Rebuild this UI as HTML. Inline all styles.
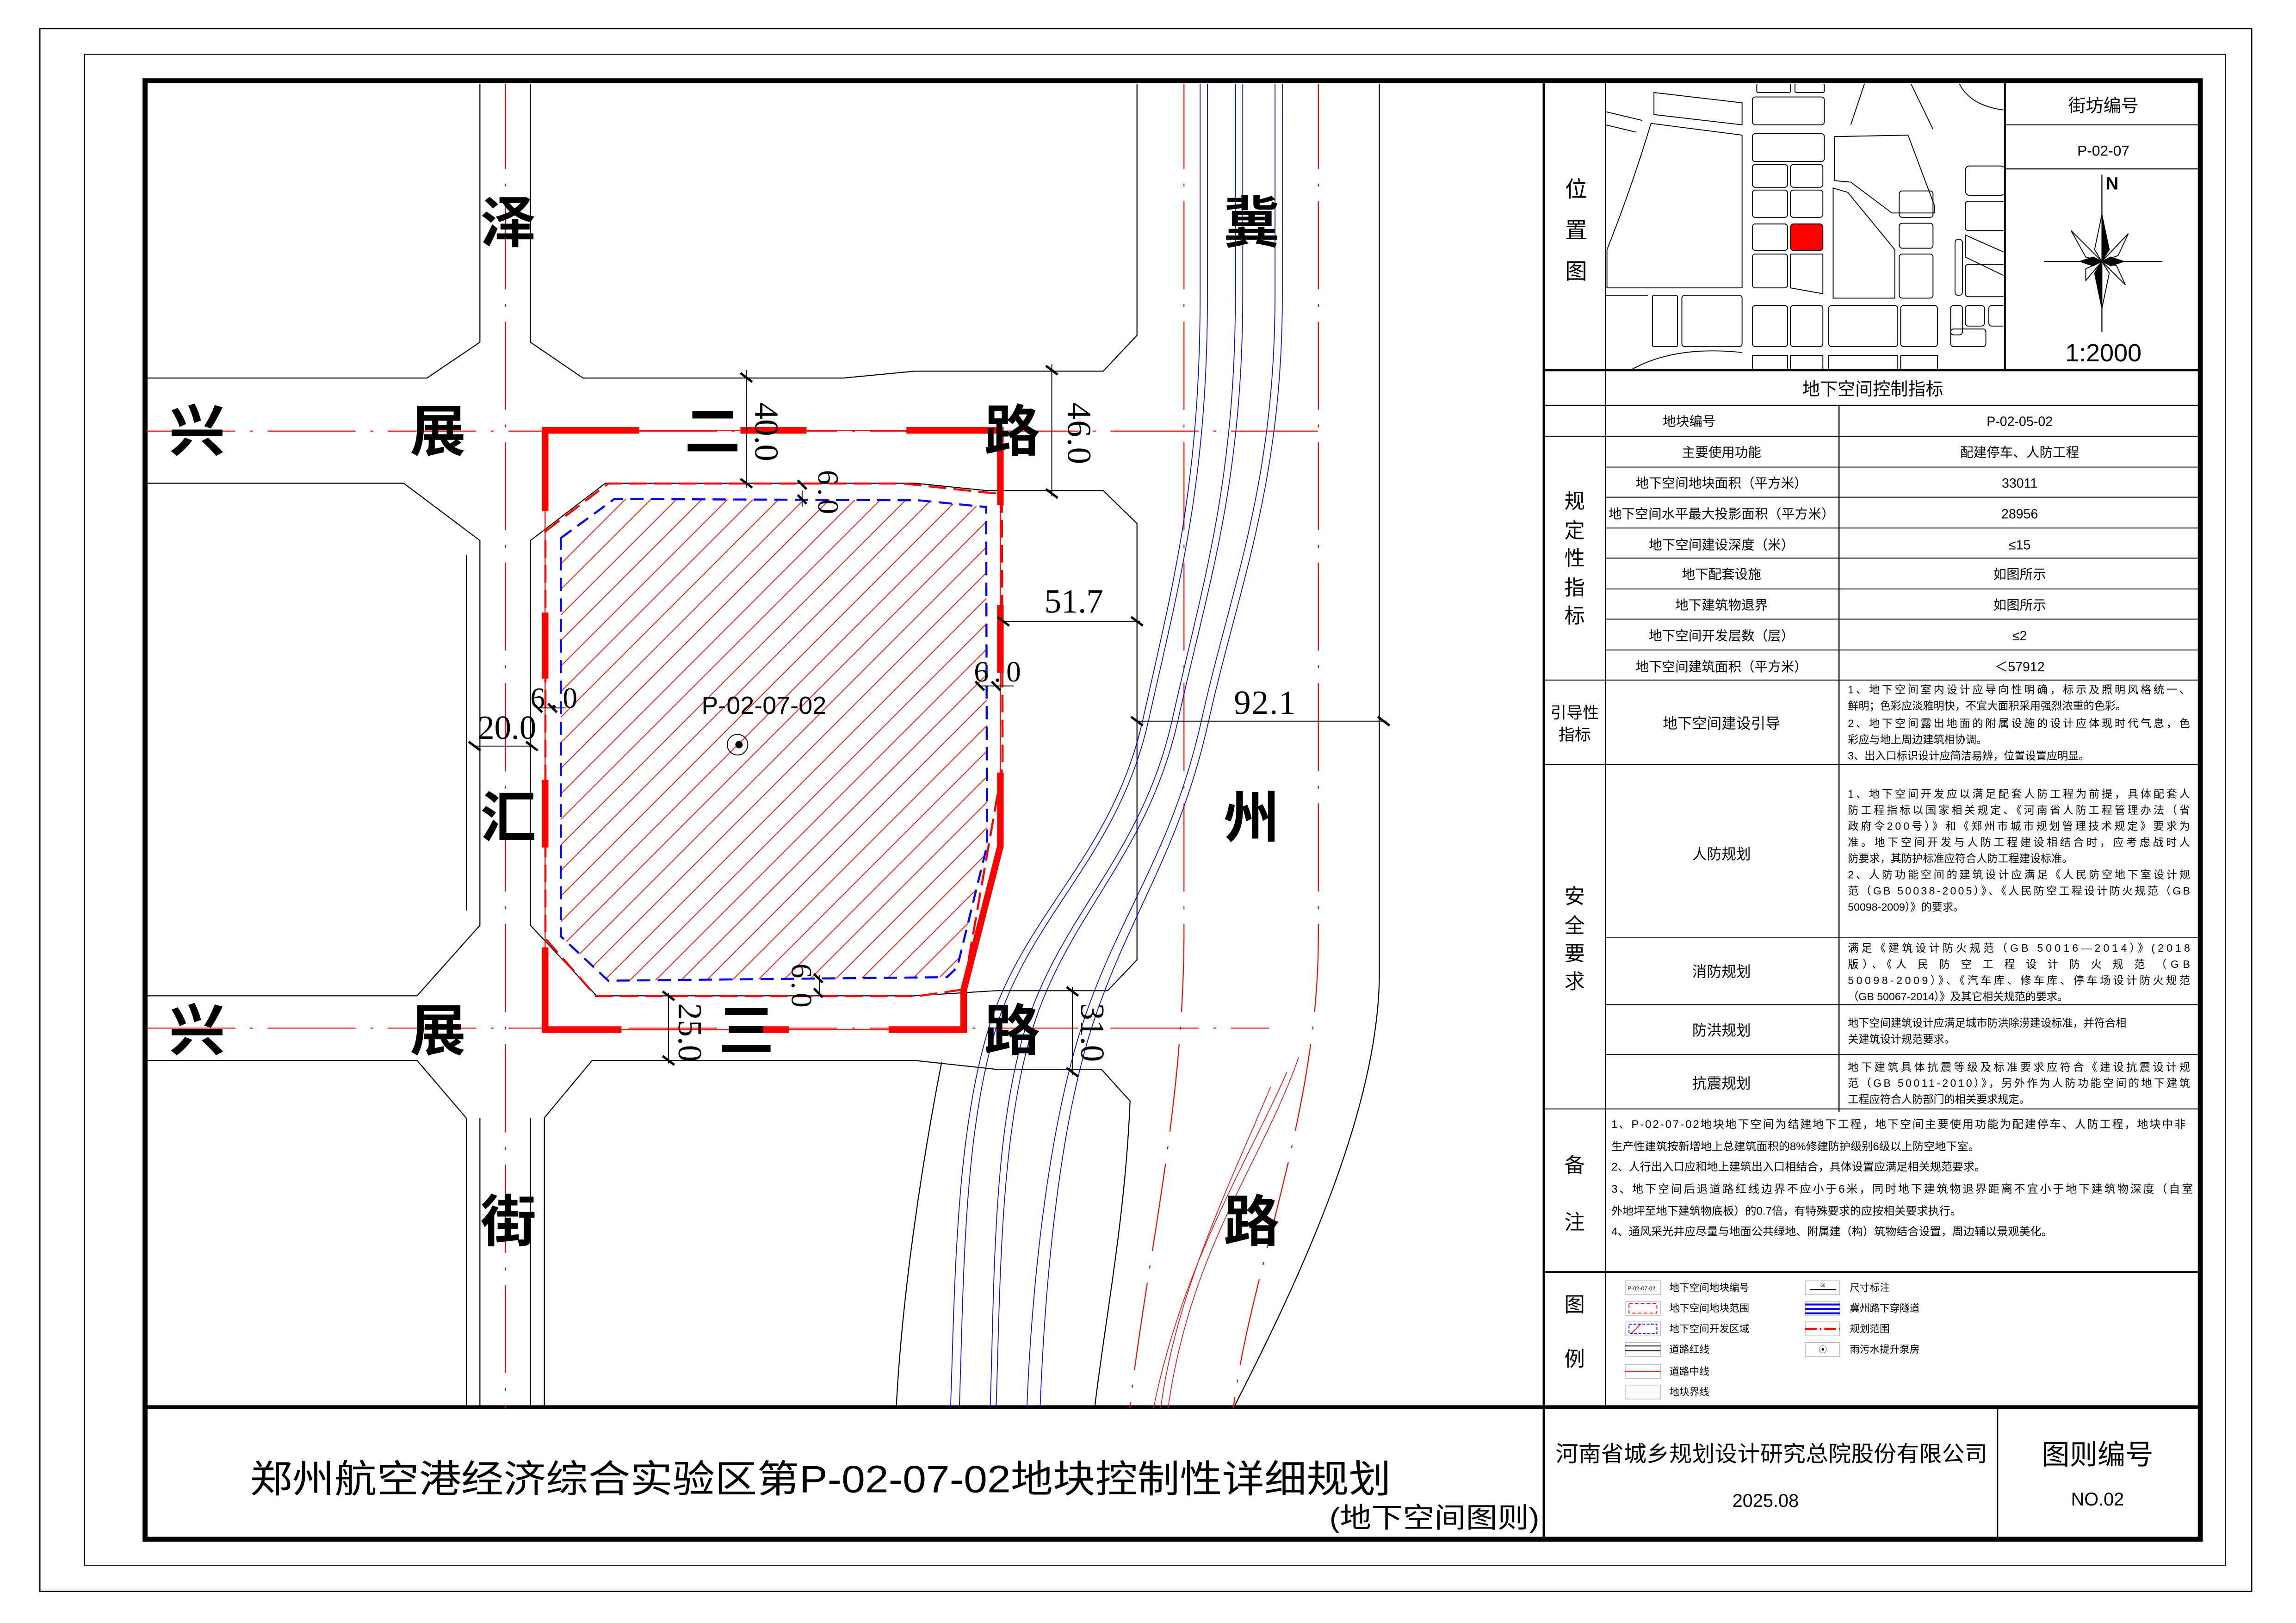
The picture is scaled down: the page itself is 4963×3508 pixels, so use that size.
<!DOCTYPE html>
<html><head><meta charset="utf-8"><style>
html,body{margin:0;padding:0;background:#fff}
svg{display:block}
text{font-family:"Liberation Sans","Noto Sans CJK SC",sans-serif}
.s{font-family:"Liberation Serif","Noto Serif CJK SC",serif}
</style></head><body>
<svg width="4963" height="3508" viewBox="0 0 1563 1105" xmlns="http://www.w3.org/2000/svg">
<defs>
<pattern id="h" patternUnits="userSpaceOnUse" width="17.4" height="17.4">
<path d="M-2 19.4L19.4 -2M-4 4L4 -4M13.4 21.4L21.4 13.4" stroke="#f00" stroke-width="0.55"/>
</pattern>
<clipPath id="cm"><rect x="100" y="57" width="950" height="902"/></clipPath>
<clipPath id="cmap"><rect x="1093" y="57" width="271" height="194"/></clipPath>
</defs>
<rect width="1563" height="1105" fill="#fff"/>
<!-- frames -->
<rect x="27" y="19.5" width="1506" height="1064" fill="none" stroke="#000" stroke-width="0.8"/>
<rect x="57.5" y="37" width="1457.5" height="1029" fill="none" stroke="#000" stroke-width="0.6"/>
<rect x="98.6" y="55" width="1399.4" height="993" fill="none" stroke="#000" stroke-width="3.4"/>
<line x1="1051" y1="55" x2="1051" y2="1048" stroke="#000" stroke-width="1.6"/>
<line x1="99" y1="958" x2="1498" y2="958" stroke="#000" stroke-width="2.5"/>

<!-- MAIN DRAWING -->
<g clip-path="url(#cm)">
<g fill="none" stroke="#000" stroke-width="0.7">
<!-- top road upper edges -->
<path d="M100 257.4L290.5 257.4L326.6 233L326.6 55"/>
<path d="M361 55L361 233L396.8 257.4L574 257.4L622.7 252.7L751 252.7L774 228.3L774 55"/>
<!-- top road lower edge / left block -->
<path d="M100 329L274.7 329L326.6 368L326.6 630L283.8 678L100 678"/>
<path d="M317.4 378L317.4 620"/>
<!-- site block -->
<path d="M361 368L412 329L623 329L671.6 334L751 334L774 356.4L774 653.5L754 674.5L678 674.5L622 678L406 678L361 630Z"/>
<!-- bottom road lower edges -->
<path d="M100 722L283.8 722L317.4 761.3L317.4 960"/>
<path d="M326.6 761L326.6 960"/>
<path d="M361 761L361 960"/>
<path d="M370.5 960L370.5 761L403 722L622.7 722L677.7 728L749.7 728L769.3 749.6C766 830 752 900 745 960"/>
<path d="M641 723C628 790 614 880 610 960"/>
<!-- jizhou right edge -->
<path d="M939 55L939 665C938 760 880 880 839 960"/>
</g>
<!-- centerlines -->
<g fill="none" stroke="#f00" stroke-width="0.7">
<path d="M100 293.5H897" stroke-dasharray="60 10 2 10"/>
<path d="M100 700H864" stroke-dasharray="60 10 2 10"/>
<path d="M344 55V960" stroke-dasharray="60 10 2 10" stroke="#e00"/>
<path d="M806 55V640C805 760 780 860 769 960" stroke-dasharray="60 10 2 10"/>
<path d="M897.5 55V640C897 760 850 870 839.5 960" stroke-dasharray="60 10 2 10"/>
<path d="M884 720C860 790 810 850 795 960" stroke-width="0.5"/>
<path d="M876 730C850 790 805 860 785 960" stroke-width="0.5"/>
<path d="M865 740C840 800 800 880 790 960" stroke-width="0.5"/>
</g>
<!-- blue tunnel lines -->
<g fill="none" stroke="#00f" stroke-width="0.55">
<path d="M817 55L817 200C817 330 798 400 778 490S700 620 675 694S650 880 647 960"/>
<path d="M822 55L822 200C822 330 802 400 782 490S705 620 680 694S656 880 653 960"/>
<path d="M841 55L841 200C841 330 818 400 798 490S725 620 700 694S677 880 674 960"/>
<path d="M846 55L846 200C846 330 822 400 802 490S730 620 705 694S681 880 678 960"/>
<path d="M868 55L868 200C868 330 838 400 818 490S763 620 738 694S702 880 699 960"/>
<path d="M873 55L873 200C873 330 843 400 823 490S770 620 745 694S711 880 708 960"/>
</g>
<!-- hatch development area -->
<polygon points="381.7,366.3 418.2,339.7 624.9,340.6 671.3,345.2 671.9,575.7 651.6,658.6 644.6,665.3 414,667.7 381.7,637.5" fill="url(#h)" stroke="#00f" stroke-width="1.4" stroke-dasharray="9 5"/>
<!-- parcel boundary -->
<polygon points="371.2,361.7 414,329.2 615,329.2 669.9,335.2 682,336.1 682.5,521.5 655.8,673.7 624.9,678.2 405.6,678.2 371.2,639" fill="none" stroke="#f00" stroke-width="1.4" stroke-dasharray="12 5"/>
<!-- planning boundary -->
<g fill="none" stroke="#f00">
<path d="M371 293H681V576L656 674V701H371Z" stroke-width="0.7"/>
<g stroke-width="4.5">
<path d="M371 348V293H435"/>
<path d="M504 293H549"/>
<path d="M617 293H681V344"/>
<path d="M681 412V458"/>
<path d="M681 526V576L656 674V701H605"/>
<path d="M537 701H504"/>
<path d="M423 701H371V645"/>
<path d="M371 417V462"/>
<path d="M371 531V577"/>
</g></g>
<!-- dimension lines -->
<g stroke="#000" stroke-width="0.6" fill="none">
<path d="M508 252V332M716 248V338M683 423H776M774 491H944M323 508H362M455 676V724M730 672V732M365 482H385M668 467H690M546 334V345M558 664V676"/>
</g>
<g stroke="#000" stroke-width="1.6">
<path d="M504 254l8 6M504 326l8 6M712 249l8 6M712 333l8 6M679 420l8 6M770 420l8 6M770 488l8 6M938 488l8 6M319 505l8 6M358 505l8 6M451 675l8 6M451 719l8 6M726 672l8 6M726 727l8 6M363 479l6 6M373 479l6 6M664 464l6 6M675 464l6 6M543 327l6 6M543 337l6 6M554 663l6 6M554 673l6 6"/>
</g>
<g class="s" font-size="23" fill="#000">
<text class="s" x="711" y="417" textLength="40">51.7</text>
<text class="s" x="840" y="486" textLength="42">92.1</text>
<text class="s" x="325" y="503" textLength="40">20.0</text>
<text class="s" x="361" y="482" font-size="20" textLength="32">6.0</text>
<text class="s" x="663" y="464" font-size="20" textLength="32">6.0</text>
<text class="s" transform="translate(514 274) rotate(90)" textLength="40">40.0</text>
<text class="s" transform="translate(727 274) rotate(90)" textLength="42">46.0</text>
<text class="s" transform="translate(557 320) rotate(90)" font-size="20" textLength="30">6.0</text>
<text class="s" transform="translate(539 656) rotate(90)" font-size="20" textLength="30">6.0</text>
<text class="s" transform="translate(462 683) rotate(90)" textLength="40">25.0</text>
<text class="s" transform="translate(736 683) rotate(90)" textLength="40">31.0</text>
</g>
<!-- road names -->
<g font-size="38" font-weight="bold" text-anchor="middle" fill="#000">
<text x="346" y="165">泽</text>
<text x="852" y="165">冀</text>
<text x="134" y="307">兴</text>
<text x="298" y="307">展</text>
<text x="485" y="307">二</text>
<text x="689" y="307">路</text>
<text x="346" y="570">汇</text>
<text x="852" y="570">州</text>
<text x="134" y="715">兴</text>
<text x="298" y="715">展</text>
<text x="508" y="715">三</text>
<text x="689" y="715">路</text>
<text x="346" y="845">街</text>
<text x="852" y="845">路</text>
</g>
<text x="520" y="486" font-size="17" text-anchor="middle" fill="#000">P-02-07-02</text>
<circle cx="502" cy="507" r="7" fill="none" stroke="#000" stroke-width="0.6"/>
<circle cx="503" cy="507" r="2.5" fill="#000"/>
</g>

<!-- RIGHT PANEL -->
<g stroke="#000" fill="none">
<line x1="1093" y1="55" x2="1093" y2="958" stroke-width="0.8"/>
<line x1="1365" y1="55" x2="1365" y2="252" stroke-width="1.2"/>
<line x1="1365" y1="85" x2="1498" y2="85" stroke-width="0.7"/>
<line x1="1365" y1="115" x2="1498" y2="115" stroke-width="0.7"/>
<line x1="1051" y1="252" x2="1498" y2="252" stroke-width="1.5"/>
<line x1="1051" y1="276" x2="1498" y2="276" stroke-width="0.8"/>
<line x1="1252" y1="276" x2="1252" y2="757" stroke-width="0.8"/>
<g stroke-width="0.6">
<line x1="1051" y1="297" x2="1498" y2="297"/>
<line x1="1093" y1="318" x2="1498" y2="318"/>
<line x1="1093" y1="338.5" x2="1498" y2="338.5"/>
<line x1="1093" y1="359.5" x2="1498" y2="359.5"/>
<line x1="1093" y1="380" x2="1498" y2="380"/>
<line x1="1093" y1="401" x2="1498" y2="401"/>
<line x1="1093" y1="421.5" x2="1498" y2="421.5"/>
<line x1="1093" y1="442.5" x2="1498" y2="442.5"/>
<line x1="1051" y1="463" x2="1498" y2="463"/>
<line x1="1051" y1="520.5" x2="1498" y2="520.5"/>
<line x1="1093" y1="638.5" x2="1498" y2="638.5"/>
<line x1="1093" y1="684" x2="1498" y2="684"/>
<line x1="1093" y1="718" x2="1498" y2="718"/>
<line x1="1051" y1="755" x2="1498" y2="755"/>
</g>
<line x1="1051" y1="866" x2="1498" y2="866" stroke-width="1.2"/>
<line x1="1360" y1="958" x2="1360" y2="1048" stroke-width="0.8"/>
</g>

<!-- location map -->
<g clip-path="url(#cmap)" fill="none" stroke="#000" stroke-width="0.6">
<rect x="1193" y="66" width="49" height="19" rx="2"/>
<rect x="1193" y="91" width="49" height="19" rx="2"/>
<rect x="1196" y="57" width="23" height="6" rx="1"/>
<rect x="1222" y="57" width="20" height="6" rx="1"/>
<rect x="1193" y="112" width="24" height="15.5" rx="2"/>
<rect x="1193" y="129.4" width="24" height="18.6" rx="2"/>
<rect x="1193" y="152.5" width="24" height="18" rx="2"/>
<rect x="1193" y="173" width="24" height="23" rx="2"/>
<rect x="1219" y="112" width="22" height="15.5" rx="2"/>
<rect x="1219" y="129.4" width="22" height="18.6" rx="2"/>
<rect x="1219" y="152.5" width="22" height="18" rx="2" fill="#f00" stroke="#000"/>
<path d="M1219 173H1241V200L1219 196Z"/>
<path d="M1124 84L1186 92V196H1094V170Q1110 130 1124 84Z"/>
<path d="M1126 63L1186 70V85L1126 78Z"/>
<path d="M1093 76L1118 82M1093 85L1114 90"/>
<path d="M1249 93L1299 92L1317 140V145L1288 145L1260 124L1249 123Z"/>
<path d="M1248 128L1258 131L1290 170V203H1248Z"/>
<rect x="1293" y="130" width="23" height="18" rx="2"/>
<rect x="1293" y="152" width="23" height="17" rx="2"/>
<rect x="1293" y="173" width="23" height="30" rx="2"/>
<path d="M1300 55L1316 88M1270 55L1260 85M1333 55Q1340 72 1365 75"/>
<rect x="1338" y="113" width="27" height="20" rx="3"/>
<rect x="1338" y="137" width="27" height="20" rx="2"/>
<path d="M1338 160L1365 172V188L1338 175Z"/>
<rect x="1331" y="163" width="5" height="38" rx="2"/>
<rect x="1338" y="180" width="27" height="22" rx="2"/>
<rect x="1193" y="208" width="24" height="28" rx="2"/>
<rect x="1219" y="208" width="22" height="28" rx="2"/>
<rect x="1245" y="208" width="47" height="28" rx="2"/>
<rect x="1294" y="208" width="25" height="28" rx="2"/>
<rect x="1328" y="208" width="8" height="20" rx="2"/>
<rect x="1338" y="208" width="13" height="14" rx="2"/>
<rect x="1354" y="208" width="12" height="14" rx="2"/>
<rect x="1328" y="224" width="24" height="12" rx="2"/>
<rect x="1145" y="201" width="41" height="35" rx="2"/>
<rect x="1125" y="201" width="17" height="35" rx="1"/>
<path d="M1093 201H1122M1110 252Q1140 235 1186 240"/>
<rect x="1193" y="242" width="24" height="12"/>
<rect x="1219" y="242" width="22" height="12"/>
<rect x="1245" y="242" width="47" height="12"/>
<rect x="1294" y="242" width="25" height="12"/>
</g>
<g font-size="15" text-anchor="middle" fill="#000">
<text x="1073" y="134">位</text><text x="1073" y="162">置</text><text x="1073" y="190">图</text>
</g>
<text x="1432" y="76" font-size="12" text-anchor="middle">街坊编号</text>
<text x="1432" y="106" font-size="10" text-anchor="middle">P-02-07</text>
<!-- compass -->
<g stroke="#000" stroke-width="0.7">
<line x1="1391.5" y1="178" x2="1472" y2="178"/>
<line x1="1431" y1="119" x2="1431" y2="226"/>
</g>
<text x="1438" y="129" font-size="12" font-weight="bold" text-anchor="middle">N</text>
<g stroke="#000" stroke-width="0.6">
<polygon points="1431,146 1436,170 1431,178" fill="#000"/>
<polygon points="1431,146 1426,170 1431,178" fill="#fff"/>
<polygon points="1431,210 1426,186 1431,178" fill="#000"/>
<polygon points="1431,210 1436,186 1431,178" fill="#fff"/>
<polygon points="1410,157 1425,172 1431,178" fill="#000"/>
<polygon points="1410,157 1420,175 1431,178" fill="#fff"/>
<polygon points="1449,159 1437,172 1431,178" fill="#000"/>
<polygon points="1449,159 1442,174 1431,178" fill="#fff"/>
<polygon points="1447,194 1437,183 1431,178" fill="#000"/>
<polygon points="1447,194 1441,181 1431,178" fill="#fff"/>
<polygon points="1420,191 1424,183 1431,178" fill="#000"/>
<polygon points="1420,191 1420,183 1431,178" fill="#fff"/>
<polygon points="1416,178 1425,175 1431,178 1425,181" fill="#000"/>
<polygon points="1446,178 1437,175 1431,178 1437,181" fill="#000"/>
</g>
<text x="1432" y="246" font-size="17" text-anchor="middle">1:2000</text>

<!-- table -->
<text x="1275" y="269" font-size="12" text-anchor="middle">地下空间控制指标</text>
<g font-size="9" text-anchor="middle">
<text x="1150" y="290">地块编号</text><text x="1375" y="290">P-02-05-02</text>
<text x="1172" y="311">主要使用功能</text><text x="1375" y="311">配建停车、人防工程</text>
<text x="1172" y="332">地下空间地块面积（平方米）</text><text x="1375" y="332">33011</text>
<text x="1172" y="353" textLength="154">地下空间水平最大投影面积（平方米）</text><text x="1375" y="353">28956</text>
<text x="1172" y="374">地下空间建设深度（米）</text><text x="1375" y="374">≤15</text>
<text x="1172" y="394">地下配套设施</text><text x="1375" y="394">如图所示</text>
<text x="1172" y="415">地下建筑物退界</text><text x="1375" y="415">如图所示</text>
<text x="1172" y="436">地下空间开发层数（层）</text><text x="1375" y="436">≤2</text>
<text x="1172" y="457">地下空间建筑面积（平方米）</text><text x="1375" y="457">＜57912</text>
<text x="1172" y="496" font-size="10">地下空间建设引导</text>
<text x="1172" y="585" font-size="10">人防规划</text>
<text x="1172" y="665" font-size="10">消防规划</text>
<text x="1172" y="705" font-size="10">防洪规划</text>
<text x="1172" y="741" font-size="10">抗震规划</text>
</g>
<g font-size="14" text-anchor="middle">
<text x="1072" y="346">规</text><text x="1072" y="366">定</text><text x="1072" y="385">性</text><text x="1072" y="405">指</text><text x="1072" y="424">标</text>
<text x="1072" y="615">安</text><text x="1072" y="635">全</text><text x="1072" y="654">要</text><text x="1072" y="673">求</text>
<text x="1072" y="798">备</text><text x="1072" y="837">注</text>
<text x="1072" y="893">图</text><text x="1072" y="930">例</text>
<text x="1072" y="489" font-size="11">引导性</text><text x="1072" y="504" font-size="11">指标</text>
</g>
<g font-size="7.3">
<text x="1258" y="472" textLength="233">1、地下空间室内设计应导向性明确，标示及照明风格统一、</text>
<text x="1258" y="483">鲜明；色彩应淡雅明快，不宜大面积采用强烈浓重的色彩。</text>
<text x="1258" y="495" textLength="233">2、地下空间露出地面的附属设施的设计应体现时代气息，色</text>
<text x="1258" y="506">彩应与地上周边建筑相协调。</text>
<text x="1258" y="517">3、出入口标识设计应简洁易辨，位置设置应明显。</text>
<text x="1258" y="543" textLength="233">1、地下空间开发应以满足配套人防工程为前提，具体配套人</text>
<text x="1258" y="554" textLength="233">防工程指标以国家相关规定、《河南省人防工程管理办法（省</text>
<text x="1258" y="565" textLength="233">政府令200号）》和《郑州市城市规划管理技术规定》要求为</text>
<text x="1258" y="576" textLength="233">准。地下空间开发与人防工程建设相结合时，应考虑战时人</text>
<text x="1258" y="587">防要求，其防护标准应符合人防工程建设标准。</text>
<text x="1258" y="598" textLength="233">2、人防功能空间的建筑设计应满足《人民防空地下室设计规</text>
<text x="1258" y="609" textLength="233">范（GB 50038-2005）》、《人民防空工程设计防火规范（GB</text>
<text x="1258" y="620">50098-2009）》的要求。</text>
<text x="1258" y="648" textLength="233">满足《建筑设计防火规范（GB 50016—2014）》(2018</text>
<text x="1258" y="659" textLength="233">版）、《人 民 防 空 工 程 设 计 防 火 规 范 （GB</text>
<text x="1258" y="670" textLength="233">50098-2009）》、《汽车库、修车库、停车场设计防火规范</text>
<text x="1258" y="681">（GB 50067-2014）》及其它相关规范的要求。</text>
<text x="1258" y="699">地下空间建筑设计应满足城市防洪除涝建设标准，并符合相</text>
<text x="1258" y="710">关建筑设计规范要求。</text>
<text x="1258" y="729" textLength="233">地下建筑具体抗震等级及标准要求应符合《建设抗震设计规</text>
<text x="1258" y="740" textLength="233">范（GB 50011-2010）》，另外作为人防功能空间的地下建筑</text>
<text x="1258" y="751">工程应符合人防部门的相关要求规定。</text>
</g>
<g font-size="7.6">
<text x="1097" y="768" textLength="391">1、P-02-07-02地块地下空间为结建地下工程，地下空间主要使用功能为配建停车、人防工程，地块中非</text>
<text x="1097" y="783">生产性建筑按新增地上总建筑面积的8%修建防护级别6级以上防空地下室。</text>
<text x="1097" y="797">2、人行出入口应和地上建筑出入口相结合，具体设置应满足相关规范要求。</text>
<text x="1097" y="812" textLength="396">3、地下空间后退道路红线边界不应小于6米，同时地下建筑物退界距离不宜小于地下建筑物深度（自室</text>
<text x="1097" y="827">外地坪至地下建筑物底板）的0.7倍，有特殊要求的应按相关要求执行。</text>
<text x="1097" y="841">4、通风采光井应尽量与地面公共绿地、附属建（构）筑物结合设置，周边辅以景观美化。</text>
</g>
<!-- legend -->
<g stroke="#bbb" stroke-width="0.5" fill="#fff">
<rect x="1106.4" y="872" width="24" height="9.5"/>
<rect x="1106.4" y="886" width="24" height="9.5"/>
<rect x="1106.4" y="900" width="24" height="9.5"/>
<rect x="1106.4" y="914" width="24" height="9.5"/>
<rect x="1106.4" y="929" width="24" height="9.5"/>
<rect x="1106.4" y="943" width="24" height="9.5"/>
<rect x="1229" y="872" width="23.5" height="9.5"/>
<rect x="1229" y="886" width="23.5" height="9.5"/>
<rect x="1229" y="900" width="23.5" height="9.5"/>
<rect x="1229" y="914" width="23.5" height="9.5"/>
</g>
<text x="1108" y="878.5" font-size="3.8">P-02-07-02</text>
<rect x="1109" y="887.5" width="19" height="6.5" fill="none" stroke="#f00" stroke-width="0.6" stroke-dasharray="2.5 1.5"/>
<rect x="1109" y="901.5" width="19" height="6.5" fill="url(#h)" stroke="#00f" stroke-width="0.6" stroke-dasharray="2 1"/>
<g stroke-width="0.6" stroke="#000"><line x1="1106.4" y1="916.4" x2="1130.4" y2="916.4"/><line x1="1106.4" y1="919.6" x2="1130.4" y2="919.6"/></g>
<line x1="1106.4" y1="933.6" x2="1130.4" y2="933.6" stroke="#f00" stroke-width="0.6"/>
<line x1="1106.4" y1="947.7" x2="1130.4" y2="947.7" stroke="#ccc" stroke-width="0.4"/>
<line x1="1232" y1="878" x2="1250" y2="878" stroke="#000" stroke-width="0.6"/>
<text x="1241" y="876" font-size="3" text-anchor="middle">50</text>
<g fill="#00f"><rect x="1229" y="887.5" width="23.5" height="1.3"/><rect x="1229" y="890.5" width="23.5" height="1.3"/><rect x="1229" y="893.5" width="23.5" height="1.3"/></g>
<line x1="1229" y1="904.8" x2="1252.5" y2="904.8" stroke="#f00" stroke-width="1.6" stroke-dasharray="8 2 1 2"/>
<circle cx="1241" cy="918.7" r="2.5" fill="none" stroke="#888" stroke-width="0.4"/><circle cx="1241" cy="918.7" r="0.9"/>
<g font-size="6.8">
<text x="1136.5" y="879">地下空间地块编号</text>
<text x="1136.5" y="893">地下空间地块范围</text>
<text x="1136.5" y="907">地下空间开发区域</text>
<text x="1136.5" y="921">道路红线</text>
<text x="1136.5" y="936">道路中线</text>
<text x="1136.5" y="950">地块界线</text>
<text x="1259.3" y="879">尺寸标注</text>
<text x="1259.3" y="893">冀州路下穿隧道</text>
<text x="1259.3" y="907">规划范围</text>
<text x="1259.3" y="921">雨污水提升泵房</text>
</g>

<!-- TITLE BAR -->
<text x="170" y="1016" font-size="26" textLength="777" lengthAdjust="spacingAndGlyphs">郑州航空港经济综合实验区第P-02-07-02地块控制性详细规划</text>
<text x="905" y="1040" font-size="19" textLength="143" lengthAdjust="spacingAndGlyphs">(地下空间图则)</text>
<text x="1206" y="995" font-size="15" text-anchor="middle" textLength="294" lengthAdjust="spacingAndGlyphs">河南省城乡规划设计研究总院股份有限公司</text>
<text x="1202" y="1026" font-size="12.5" text-anchor="middle">2025.08</text>
<text x="1428" y="997" font-size="19" text-anchor="middle">图则编号</text>
<text x="1428" y="1025" font-size="12.5" text-anchor="middle">NO.02</text>
</svg>
</body></html>
